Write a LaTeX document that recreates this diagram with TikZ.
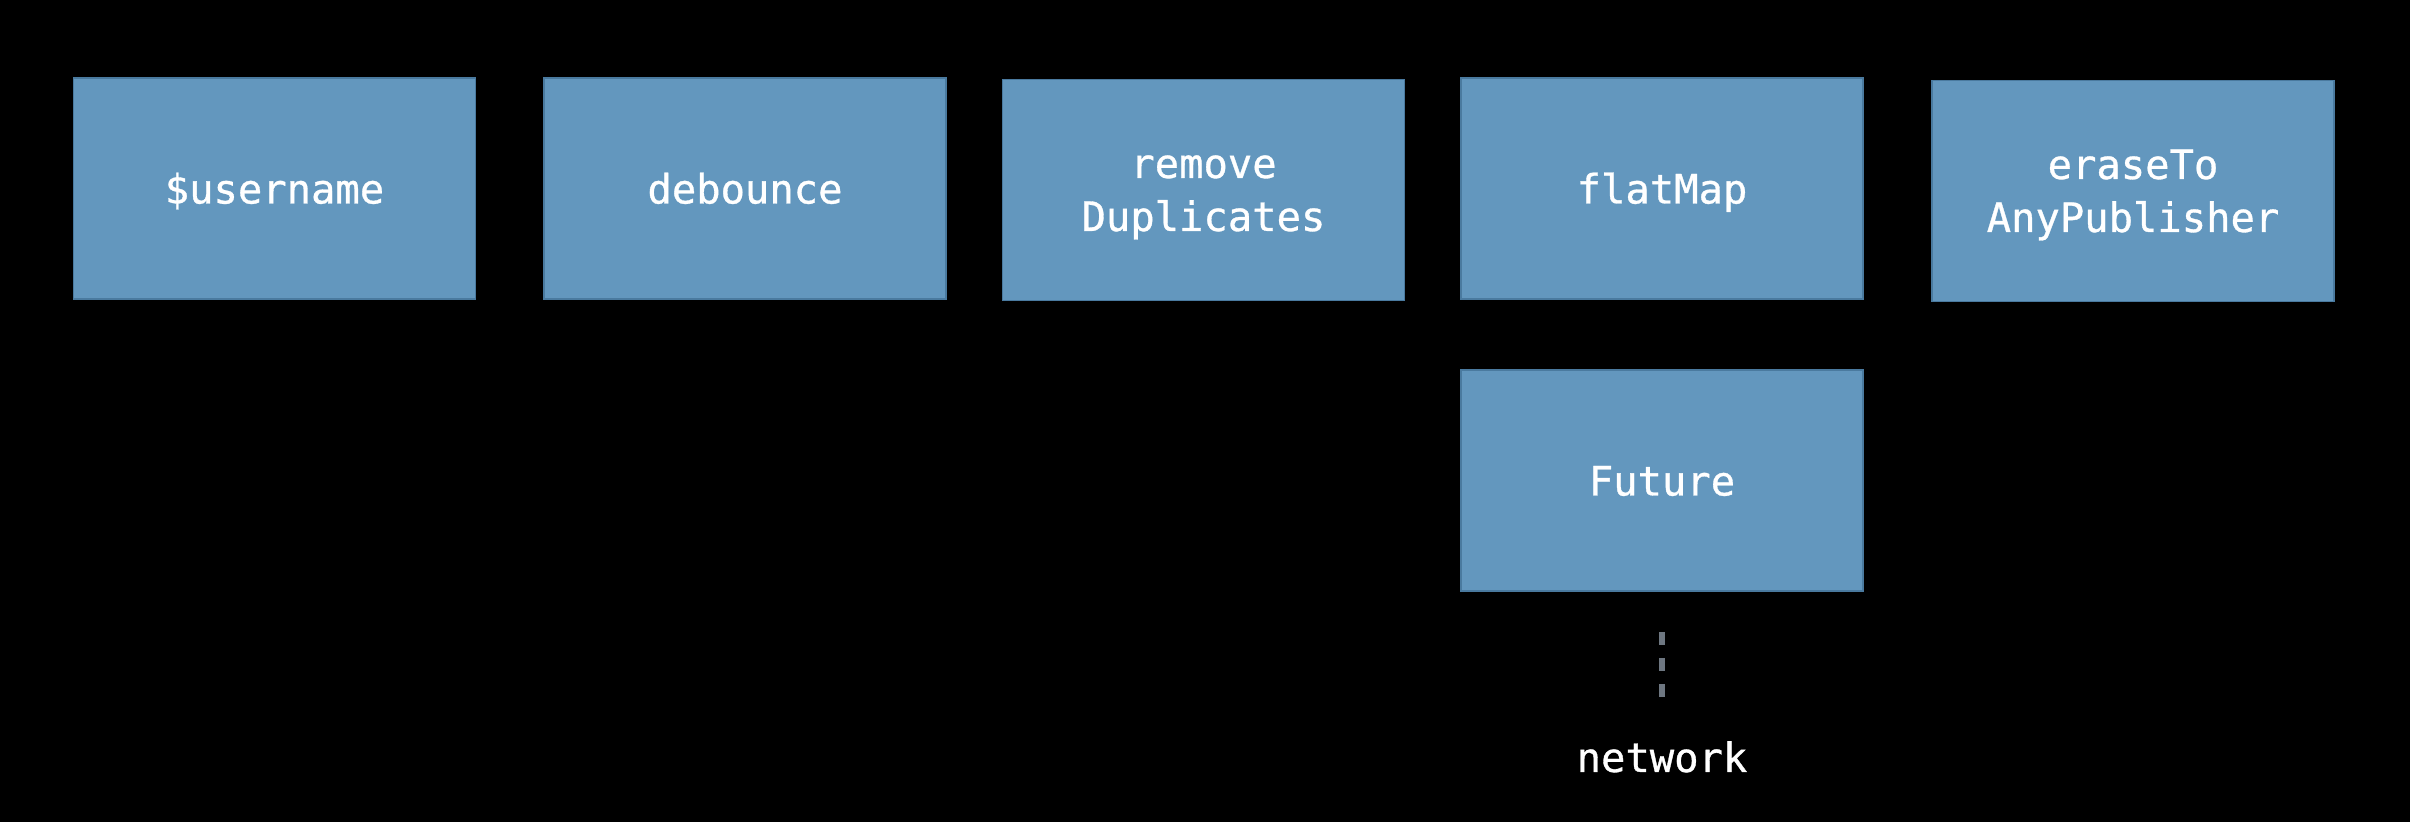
\documentclass[tikz,border=0pt]{standalone}
\usepackage{fontspec}
\newfontfamily\boxfont{DejaVu Sans Mono}[FakeBold=0.8]
\definecolor{boxfill}{HTML}{6397BE}
\definecolor{boxline}{HTML}{4A7A9F}
\definecolor{dashgray}{HTML}{6E7781}
\begin{document}
\begin{tikzpicture}[x=0.5pt,y=-0.5pt,
  opbox/.style={rectangle, fill=boxfill, draw=boxline, line width=0.6pt,
    minimum width=201pt, minimum height=110.5pt, inner sep=0pt,
    text=white, align=center, text height=15pt, text depth=0pt,
    font=\boxfont\fontsize{20.25pt}{26.5pt}\selectfont},
  twoline/.style={text height=41pt, text depth=0pt},
  lbl/.style={text=white, inner sep=0pt, anchor=base,
    font=\boxfont\fontsize{20.25pt}{26.5pt}\selectfont},
  dashline/.style={draw=dashgray, line width=3pt, dash pattern=on 6.5pt off 6.5pt}]
\fill[black] (0,0) rectangle (2410,822);
\useasboundingbox (0,0) rectangle (2410,822);
\node[opbox] (user) at (274.5,188.5) {\$username};
\node[opbox] (deb) at (745,188.5) {debounce};
\node[opbox, twoline] (dup) at (1203.5,190) {remove\\Duplicates};
\node[opbox] (flat) at (1662,188.5) {flatMap};
\node[opbox, twoline] (erase) at (2133,191) {eraseTo\\AnyPublisher};
\node[opbox] (fut) at (1662,480.5) {Future};
\node[lbl] (net) at (1662,772) {network};
\coordinate (dtop) at (1662,632);
\coordinate (dbot) at (1662,697);
\draw[dashline] (dtop) -- (dbot);
\end{tikzpicture}
\end{document}
